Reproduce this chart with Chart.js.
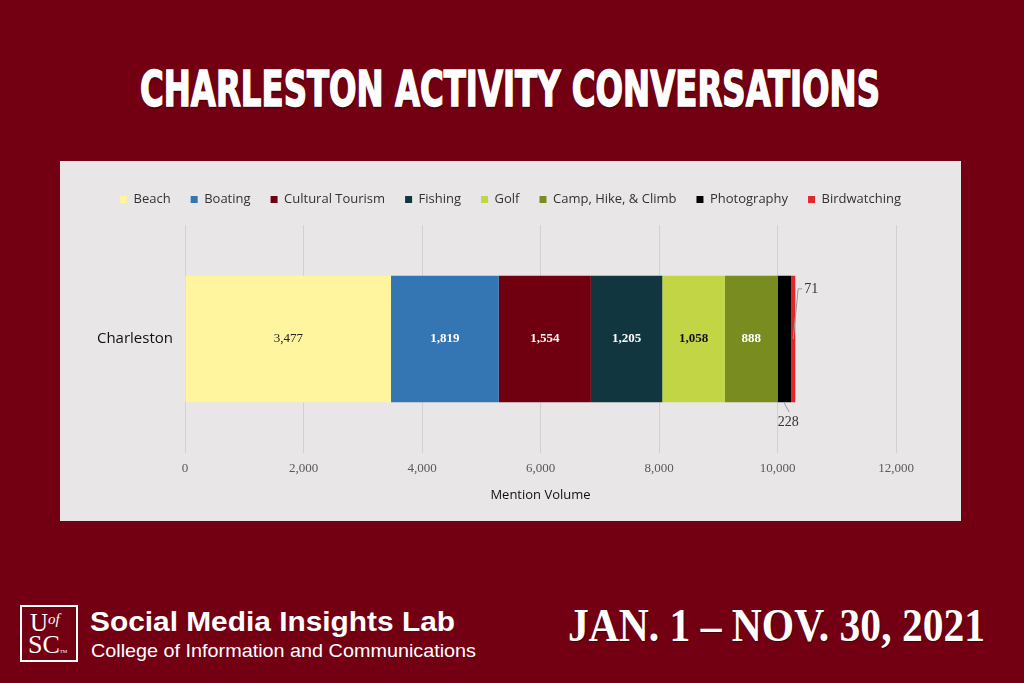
<!DOCTYPE html>
<html>
<head>
<meta charset="utf-8">
<script src="https://cdn.jsdelivr.net/npm/chart.js"></script>
<style>
  html, body { margin: 0; padding: 0; }
  body { width: 1024px; height: 683px; background: #730012; position: relative; overflow: hidden; }
  .fit { position: absolute; white-space: nowrap; display: inline-block; line-height: 1; color: #fff; transform-origin: 0 0; }
  #title { font-family: "DejaVu Sans Condensed", "DejaVu Sans"; font-weight: bold; font-size: 50px; left: 140px; top: 64px; -webkit-text-stroke: 1.5px #fff; text-shadow: 1px 2px 2px rgba(0,0,0,0.45); }
  #panel { position: absolute; left: 60px; top: 161px; width: 901px; height: 360px; background: #e8e6e6; }
  #logo { position: absolute; left: 20px; top: 605px; width: 54px; height: 53px; border: 2px solid #fff; color: #fff; font-family: "Liberation Serif", serif; }
  #lab { font-family: "Liberation Sans", Arial, sans-serif; font-weight: bold; font-size: 28px; left: 90px; top: 608px; }
  #college { font-family: "Liberation Sans", Arial, sans-serif; font-size: 19px; left: 91px; top: 641px; }
  #dates { font-family: "Liberation Serif", serif; font-weight: bold; font-size: 46px; left: 568px; top: 603px; text-shadow: 1px 1px 1px rgba(0,0,0,0.4); }
</style>
</head>
<body>
<div id="title" class="fit" data-w="740">CHARLESTON ACTIVITY CONVERSATIONS</div>
<div id="panel"><canvas id="chart" width="901" height="360"></canvas></div>
<div id="logo">
  <div style="position:absolute;left:8px;top:3px;font-size:25px;line-height:1;">U<span style="font-size:15px;font-style:italic;vertical-align:7px;">of</span></div>
  <div style="position:absolute;left:6px;top:25px;font-size:26px;line-height:1;">SC<span style="font-size:5px;">TM</span></div>
</div>
<div id="lab" class="fit" data-w="365">Social Media Insights Lab</div>
<div id="college" class="fit" data-w="385">College of Information and Communications</div>
<div id="dates" class="fit" data-w="417">JAN. 1 – NOV. 30, 2021</div>

<script>
// chart data
const categories = ['Charleston'];
const activities = ['Beach', 'Boating', 'Cultural Tourism', 'Fishing', 'Golf', 'Camp, Hike, & Climb', 'Photography', 'Birdwatching'];
const mentions = [3477, 1819, 1554, 1205, 1058, 888, 228, 71];
const xTicks = [0, 2000, 4000, 6000, 8000, 10000, 12000];

const colors = ['#fff59f', '#3476b3', '#700010', '#12363f', '#c2d544', '#788c1f', '#000000', '#e3262a'];
const labelColors = ['#222222', '#ffffff', '#ffffff', '#ffffff', '#111111', '#ffffff', '#333333', '#333333'];

// draws the values on (or next to) each segment
const segmentLabels = {
  id: 'segmentLabels',
  afterDatasetsDraw(chart) {
    const ctx = chart.ctx;
    ctx.save();
    ctx.textAlign = 'center';
    ctx.textBaseline = 'middle';
    chart.data.datasets.forEach((ds, i) => {
      const bar = chart.getDatasetMeta(i).data[0];
      if (!bar) return;
      const left = Math.min(bar.x, bar.base), right = Math.max(bar.x, bar.base);
      const top = bar.y - bar.height / 2, bottom = bar.y + bar.height / 2;
      const text = ds.data[0].toLocaleString('en-US');
      ctx.font = (i === 0 ? '' : 'bold ') + '13px "Liberation Serif", serif';
      ctx.fillStyle = labelColors[i];
      if (right - left > 40) {
        ctx.fillText(text, (left + right) / 2, bar.y);
        return;
      }
      ctx.strokeStyle = '#9a9a9a';
      ctx.lineWidth = 1;
      ctx.font = '14px "Liberation Serif", serif';
      const cx = (left + right) / 2;
      ctx.beginPath();
      if (i === activities.indexOf('Photography')) {
        ctx.moveTo(cx, bottom + 1);
        ctx.lineTo(cx + 5, bottom + 10);
        ctx.stroke();
        ctx.fillText(text, cx + 4, bottom + 20);
      } else {
        ctx.moveTo(cx, bar.y);
        ctx.lineTo(cx + 5, top + 13);
        ctx.lineTo(cx + 9, top + 13);
        ctx.stroke();
        ctx.textAlign = 'left';
        ctx.fillText(text, cx + 11, top + 13);
        ctx.textAlign = 'center';
      }
    });
    ctx.restore();
  }
};

new Chart(document.getElementById('chart'), {
  type: 'bar',
  data: {
    labels: categories,
    datasets: activities.map((name, i) => ({
      label: name,
      data: [mentions[i]],
      backgroundColor: colors[i],
      borderWidth: 0,
      categoryPercentage: 0.745,
      barPercentage: 0.745
    }))
  },
  options: {
    indexAxis: 'y',
    responsive: false,
    animation: false,
    layout: { padding: { top: 12, right: 0, bottom: 18, left: 0 } },
    plugins: {
      legend: {
        position: 'top',
        labels: {
          boxWidth: 7,
          boxHeight: 7,
          padding: 20,
          color: '#333333',
          font: { family: '"Open Sans", sans-serif', size: 13 }
        }
      },
      // empty spacer between the legend and the plot
      subtitle: {
        display: true,
        text: ' ',
        weight: 500,
        font: { size: 1 },
        padding: { top: 0, bottom: 8 }
      },
      tooltip: { enabled: false }
    },
    scales: {
      x: {
        stacked: true,
        min: 0,
        max: 12000,
        afterBuildTicks(scale) { scale.ticks = xTicks.map(v => ({ value: v })); },
        grid: { color: '#d2d0d0', drawTicks: false },
        border: { display: false },
        ticks: {
          padding: 8,
          color: '#595959',
          font: { family: '"Liberation Serif", serif', size: 13 },
          callback: v => v.toLocaleString('en-US')
        },
        title: {
          display: true,
          text: 'Mention Volume',
          color: '#111111',
          padding: { top: 3, bottom: 0 },
          font: { family: '"Open Sans", sans-serif', size: 13 }
        }
      },
      y: {
        stacked: true,
        afterFit(scale) { scale.width = 125; },
        grid: { display: false, drawTicks: false },
        border: { display: false },
        ticks: {
          padding: 12,
          color: '#111111',
          font: { family: '"Open Sans", sans-serif', size: 15 }
        }
      },
      // empty axis that keeps room on the right of the plot
      right: {
        type: 'linear',
        position: 'right',
        min: 0,
        max: 1,
        afterFit(scale) { scale.width = 65; },
        grid: { display: false, drawTicks: false },
        border: { display: false },
        ticks: { display: false }
      }
    }
  },
  plugins: [segmentLabels]
});

// stretch the page texts to the widths seen in the picture
document.querySelectorAll('.fit').forEach(el => {
  const w = el.getBoundingClientRect().width;
  el.style.transform = 'scaleX(' + (parseFloat(el.dataset.w) / w) + ')';
});
</script>
</body>
</html>
